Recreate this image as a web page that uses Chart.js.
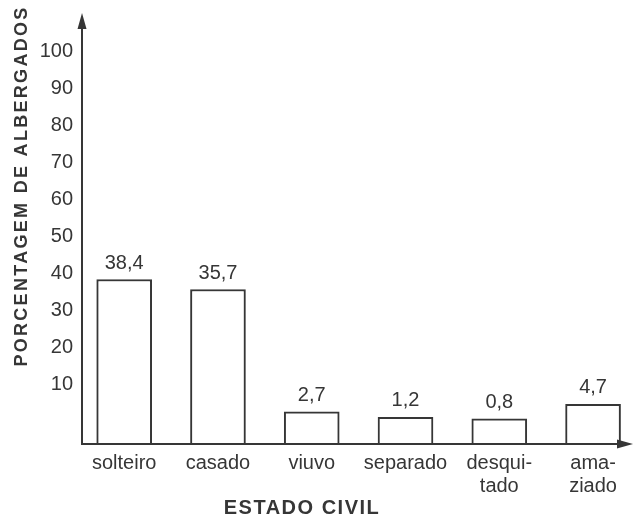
<!DOCTYPE html>
<html>
<head>
<meta charset="utf-8">
<script src="https://cdn.jsdelivr.net/npm/chart.js@4"></script>
<style>
  html, body { margin: 0; padding: 0; background: #ffffff; }
  #wrap { width: 634px; height: 515px; position: relative; }
</style>
</head>
<body>
<div id="wrap"><canvas id="c"></canvas></div>
<script>
const categories = ['solteiro', 'casado', 'viuvo', 'separado', ['desqui-', 'tado'], ['ama-', 'ziado']];
const percentages = [38.4, 35.7, 2.7, 1.2, 0.8, 4.7];
const yTickValues = [10, 20, 30, 40, 50, 60, 70, 80, 90, 100];
const yAxisTitle = 'PORCENTAGEM DE ALBERGADOS';
const xAxisTitle = 'ESTADO CIVIL';

const INK = '#363636';
const FONT = '"Liberation Sans", Arial, Helvetica, sans-serif';
const Y_MIN = -6, Y_MAX = 108.2;
const X_MIN = -0.45, X_MAX = 5.33;

const decor = {
  id: 'decor',
  afterDatasetsDraw(chart) {
    const ctx = chart.ctx;
    const meta = chart.getDatasetMeta(0);
    ctx.save();
    ctx.fillStyle = INK;
    ctx.font = '20px ' + FONT;
    ctx.textAlign = 'center';
    ctx.textBaseline = 'alphabetic';
    meta.data.forEach((bar, i) => {
      ctx.fillText(String(percentages[i]).replace('.', ','), bar.x, bar.y - 11);
    });
    ctx.restore();
  },
  afterDraw(chart) {
    const ctx = chart.ctx;
    const a = chart.chartArea;
    ctx.save();
    ctx.strokeStyle = INK;
    ctx.fillStyle = INK;
    ctx.lineWidth = 2;
    const tipY = 13;
    // y axis + arrow
    ctx.beginPath();
    ctx.moveTo(a.left, a.bottom);
    ctx.lineTo(a.left, tipY + 5);
    ctx.stroke();
    ctx.beginPath();
    ctx.moveTo(a.left, tipY);
    ctx.lineTo(a.left - 4.5, tipY + 16);
    ctx.lineTo(a.left + 4.5, tipY + 16);
    ctx.closePath();
    ctx.fill();
    // x axis + arrow
    const tipX = 633;
    ctx.beginPath();
    ctx.moveTo(a.left, a.bottom);
    ctx.lineTo(tipX - 4, a.bottom);
    ctx.stroke();
    ctx.beginPath();
    ctx.moveTo(tipX, a.bottom);
    ctx.lineTo(tipX - 16, a.bottom - 4.5);
    ctx.lineTo(tipX - 16, a.bottom + 4.5);
    ctx.closePath();
    ctx.fill();
    // y title
    ctx.save();
    ctx.translate(22, 186);
    ctx.rotate(-Math.PI / 2);
    ctx.font = 'bold 18px ' + FONT;
    try { ctx.letterSpacing = '2.3px'; } catch (e) {}
    ctx.textAlign = 'center';
    ctx.textBaseline = 'middle';
    ctx.fillText(yAxisTitle, 0, 0);
    ctx.restore();
    // x title
    ctx.font = 'bold 20px ' + FONT;
    try { ctx.letterSpacing = '1.5px'; } catch (e) {}
    ctx.textAlign = 'center';
    ctx.textBaseline = 'middle';
    ctx.fillText(xAxisTitle, 302, 508);
    ctx.restore();
  }
};

new Chart(document.getElementById('c'), {
  type: 'bar',
  data: {
    datasets: [{
      data: percentages.map((v, i) => ({ x: i, y: v })),
      base: Y_MIN,
      backgroundColor: '#ffffff',
      borderColor: INK,
      borderWidth: 2,
      barThickness: 55
    }]
  },
  options: {
    responsive: true,
    maintainAspectRatio: false,
    animation: false,
    devicePixelRatio: 1,
    layout: { padding: { top: 8, right: 10, left: 0, bottom: 0 } },
    plugins: { legend: { display: false }, tooltip: { enabled: false } },
    scales: {
      x: {
        type: 'linear',
        min: X_MIN,
        max: X_MAX,
        offset: false,
        grid: { display: false, drawTicks: false },
        border: { display: true, color: INK, width: 2 },
        afterBuildTicks(scale) { scale.ticks = categories.map((_, i) => ({ value: i })); },
        ticks: {
          color: INK,
          font: { size: 20, family: FONT, lineHeight: 1.15 },
          padding: 8,
          maxRotation: 0,
          autoSkip: false,
          callback: v => categories[v]
        },
        afterFit(scale) { scale.height = 71; }
      },
      y: {
        min: Y_MIN,
        max: Y_MAX,
        grid: { display: false, drawTicks: false },
        border: { display: true, color: INK, width: 2 },
        afterBuildTicks(scale) { scale.ticks = yTickValues.map(v => ({ value: v })); },
        ticks: {
          color: INK,
          font: { size: 20, family: FONT },
          padding: 9,
          callback: v => String(v)
        },
        afterFit(scale) { scale.width = 82; }
      }
    }
  },
  plugins: [decor]
});
</script>
</body>
</html>
